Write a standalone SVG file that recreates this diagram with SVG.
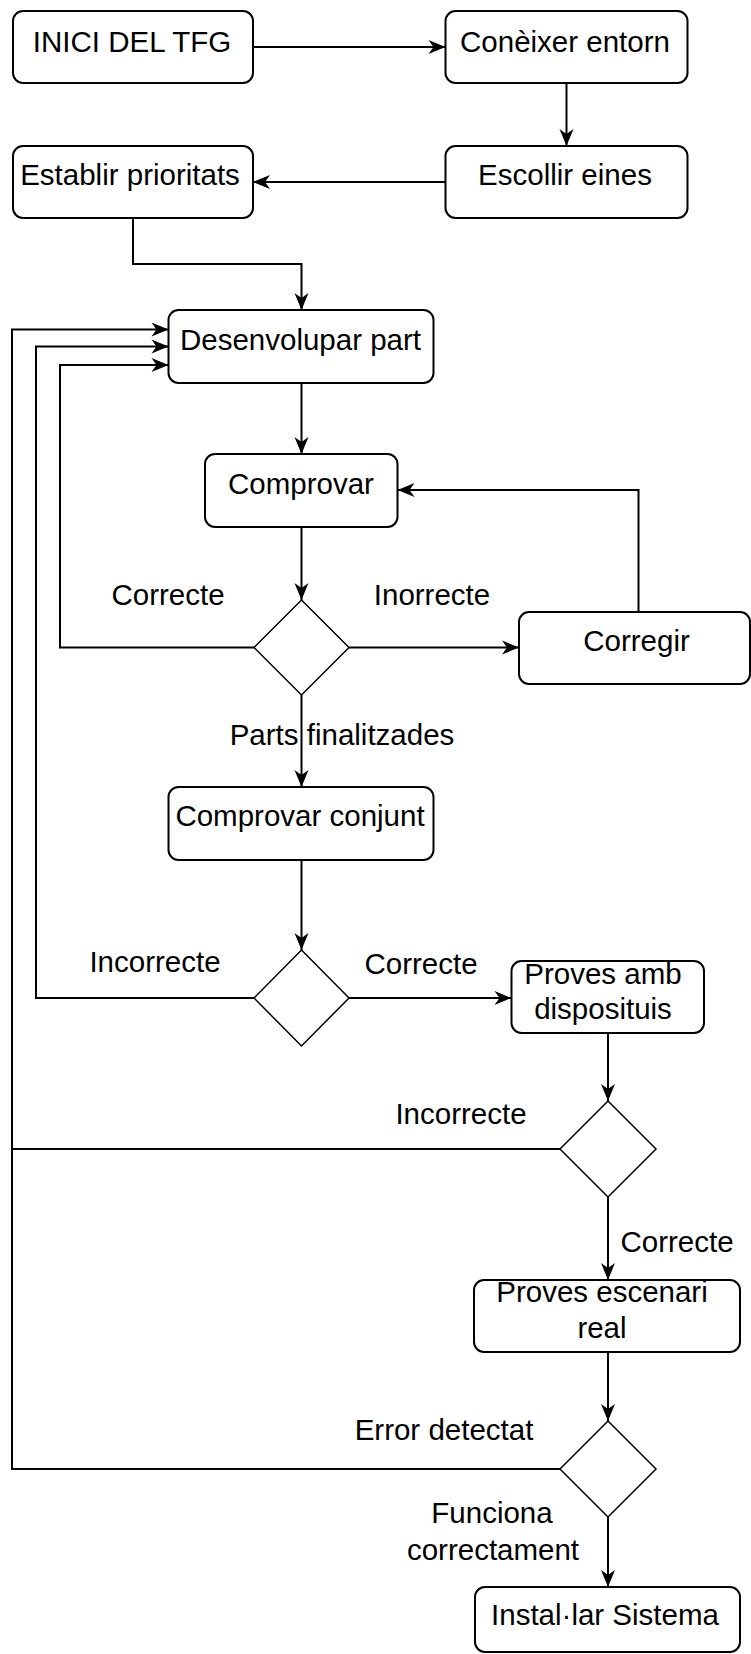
<svg xmlns="http://www.w3.org/2000/svg" width="751" height="1654" viewBox="0 0 751 1654">
<defs>
<marker id="arr" markerUnits="userSpaceOnUse" markerWidth="18" markerHeight="15" refX="17" refY="7" orient="auto" overflow="visible">
<path d="M0,0 L17,7 L0,14 L5,7 z" fill="#000"/>
</marker>
</defs>
<style>
.box{fill:#fff;stroke:#000;stroke-width:2}
.dia{fill:#fff;stroke:#000;stroke-width:1.5}
.t{font-family:"Liberation Sans",Arial,sans-serif;font-size:29.5px;fill:#000;text-anchor:middle}
.c{fill:none;stroke:#000;stroke-width:2}
.a{marker-end:url(#arr)}
</style>
<rect width="751" height="1654" fill="#fff"/>
<g id="connectors">
<path class="c a" d="M253,47 H445.5"/>
<path class="c a" d="M566.5,83 V146"/>
<path class="c a" d="M445.5,182 H253"/>
<path class="c a" d="M133,218 V264 H301.5 V310"/>
<path class="c a" d="M301.5,383 V454"/>
<path class="c a" d="M301.5,527 V600"/>
<path class="c a" d="M349,647.5 H519"/>
<path class="c a" d="M638.5,612 V490 H397.5"/>
<path class="c a" d="M254,647.5 H60 V365 H168.5"/>
<path class="c a" d="M301.5,695 V787"/>
<path class="c a" d="M301.5,860 V950"/>
<path class="c a" d="M254,998 H36 V346.5 H168.5"/>
<path class="c a" d="M349,998 H511.5"/>
<path class="c a" d="M608,1033 V1101"/>
<path class="c" d="M560,1149 H12"/>
<path class="c a" d="M608,1197 V1280"/>
<path class="c a" d="M608,1352 V1421"/>
<path class="c a" d="M560,1469 H12 V329.5 H168.5"/>
<path class="c a" d="M608,1517 V1587"/>
<text class="t" x="168" y="605">Correcte</text>
<text class="t" x="432" y="605">Inorrecte</text>
<text class="t" x="342" y="745">Parts finalitzades</text>
<text class="t" x="155" y="972">Incorrecte</text>
<text class="t" x="421" y="974">Correcte</text>
<text class="t" x="461" y="1124">Incorrecte</text>
<text class="t" x="677" y="1252">Correcte</text>
<text class="t" x="444" y="1440">Error detectat</text>
<text class="t" x="492" y="1523">Funciona</text>
<text class="t" x="493" y="1560">correctament</text>
</g>
<g id="n-inici"><rect class="box" x="13" y="11" width="240" height="72" rx="10"/><text class="t" x="132" y="52">INICI DEL TFG</text></g>
<g id="n-coneixer"><rect class="box" x="445.5" y="11" width="242" height="72" rx="10"/><text class="t" x="565" y="52">Conèixer entorn</text></g>
<g id="n-escollir"><rect class="box" x="445.5" y="146" width="242" height="72" rx="10"/><text class="t" x="565" y="185">Escollir eines</text></g>
<g id="n-establir"><rect class="box" x="13" y="146" width="240" height="72" rx="10"/><text class="t" x="130" y="185">Establir prioritats</text></g>
<g id="n-desenvolupar"><rect class="box" x="168.5" y="310" width="265" height="73" rx="10"/><text class="t" x="300.5" y="350">Desenvolupar part</text></g>
<g id="n-comprovar"><rect class="box" x="205" y="454" width="192.5" height="73" rx="10"/><text class="t" x="301" y="494">Comprovar</text></g>
<g id="n-d1"><polygon class="dia" points="301.5,600 349,647.5 301.5,695 254,647.5"/></g>
<g id="n-corregir"><rect class="box" x="519" y="612" width="231" height="72" rx="10"/><text class="t" x="636.5" y="651">Corregir</text></g>
<g id="n-conjunt"><rect class="box" x="168.5" y="787" width="265" height="73" rx="10"/><text class="t" x="300" y="826">Comprovar conjunt</text></g>
<g id="n-d2"><polygon class="dia" points="301.5,950 349,998 301.5,1046 254,998"/></g>
<g id="n-dispositius"><rect class="box" x="511.5" y="961" width="192.5" height="72" rx="10"/><text class="t" x="603" y="984">Proves amb</text><text class="t" x="603" y="1019">disposituis</text></g>
<g id="n-d3"><polygon class="dia" points="608,1101 656,1149 608,1197 560,1149"/></g>
<g id="n-escenari"><rect class="box" x="474" y="1280" width="266" height="72" rx="10"/><text class="t" x="602" y="1302">Proves escenari</text><text class="t" x="602" y="1338">real</text></g>
<g id="n-d4"><polygon class="dia" points="608,1421 656,1469 608,1517 560,1469"/></g>
<g id="n-installar"><rect class="box" x="475" y="1587" width="265" height="65" rx="10"/><text class="t" x="605" y="1625">Instal·lar Sistema</text></g>
</svg>
